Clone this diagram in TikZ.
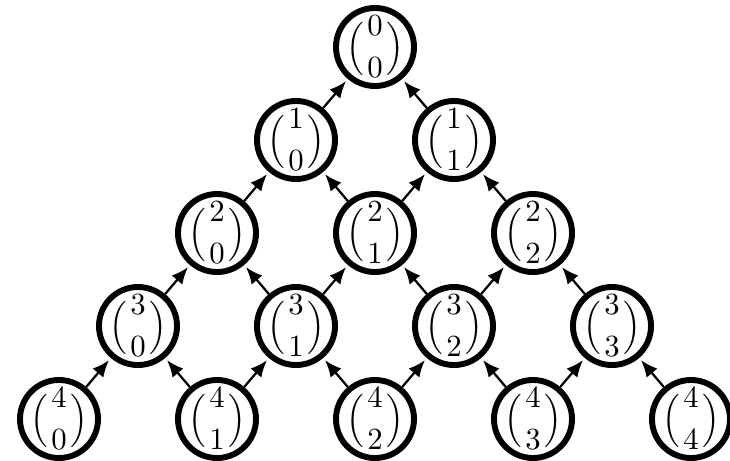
\documentclass[tikz,border=0pt]{standalone}
\usepackage{amsmath,amssymb}
\usetikzlibrary{arrows.meta,positioning}

\begin{document}
\begin{tikzpicture}[x=0.0125cm,y=0.0125cm,
  every node/.style={font=\fontsize{10.5}{12}\selectfont},
  bnode/.style 2 args={circle,draw=black,line width=2.1pt,minimum size=0.975cm,inner sep=0pt,
    label={[inner sep=0pt]center:$\Bigl(\genfrac{}{}{0pt}{0}{#1}{#2}\Bigr)$}},
  arrow/.style={-{Latex[length=6pt,width=5pt]},line width=0.8pt,color=black,shorten >=1pt}
]
\useasboundingbox (-375,47) rectangle (355,-413);
% row 0
\node[bnode={0}{0}] (n00) at (0,0) {};
% row 1
\node[bnode={1}{0}] (n10) at (-79,-93) {};
\node[bnode={1}{1}] (n11) at (79,-93) {};
% row 2
\node[bnode={2}{0}] (n20) at (-158,-186) {};
\node[bnode={2}{1}] (n21) at (0,-186) {};
\node[bnode={2}{2}] (n22) at (158,-186) {};
% row 3
\node[bnode={3}{0}] (n30) at (-237,-279) {};
\node[bnode={3}{1}] (n31) at (-79,-279) {};
\node[bnode={3}{2}] (n32) at (79,-279) {};
\node[bnode={3}{3}] (n33) at (237,-279) {};
% row 4
\node[bnode={4}{0}] (n40) at (-316,-372) {};
\node[bnode={4}{1}] (n41) at (-158,-372) {};
\node[bnode={4}{2}] (n42) at (0,-372) {};
\node[bnode={4}{3}] (n43) at (158,-372) {};
\node[bnode={4}{4}] (n44) at (316,-372) {};

% arrows go up to the parents
\draw[arrow] (n10) -- (n00);
\draw[arrow] (n11) -- (n00);
\draw[arrow] (n20) -- (n10);
\draw[arrow] (n21) -- (n10);
\draw[arrow] (n21) -- (n11);
\draw[arrow] (n22) -- (n11);
\draw[arrow] (n30) -- (n20);
\draw[arrow] (n31) -- (n20);
\draw[arrow] (n31) -- (n21);
\draw[arrow] (n32) -- (n21);
\draw[arrow] (n32) -- (n22);
\draw[arrow] (n33) -- (n22);
\draw[arrow] (n40) -- (n30);
\draw[arrow] (n41) -- (n30);
\draw[arrow] (n41) -- (n31);
\draw[arrow] (n42) -- (n31);
\draw[arrow] (n42) -- (n32);
\draw[arrow] (n43) -- (n32);
\draw[arrow] (n43) -- (n33);
\draw[arrow] (n44) -- (n33);
\end{tikzpicture}
\end{document}
